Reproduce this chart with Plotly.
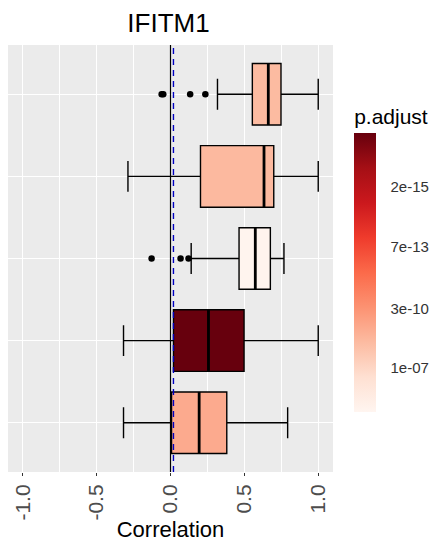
import plotly.graph_objects as go
from plotly.colors import sample_colorscale
import math

# ---- data ----
groups = ["G1", "G2", "G3", "G4", "G5"]          # top to bottom
positions = [5, 4, 3, 2, 1]
q1 = [0.554, 0.203, 0.464, 0.020, 0.007]
median = [0.662, 0.633, 0.574, 0.257, 0.194]
q3 = [0.748, 0.699, 0.676, 0.498, 0.381]
lowerfence = [0.318, -0.288, 0.140, -0.318, -0.318]
upperfence = [1.000, 1.000, 0.768, 1.000, 0.793]
p_adjust = [8e-9, 7e-9, 6e-6, 1e-17, 2e-9]
outlier_group = ["G1", "G1", "G1", "G1", "G3", "G3", "G3"]
outlier_x = [-0.060, -0.049, 0.133, 0.236, -0.128, 0.068, 0.122]
vline_zero = 0.0
vline_ref = 0.02
cbar_ticks = [2e-15, 7e-13, 3e-10, 1e-07]
cbar_ticklabels = ["2e-15", "7e-13", "3e-10", "1e-07"]
x_ticks = [-1.0, -0.5, 0.0, 0.5, 1.0]
x_ticklabels = ["-1.0", "-0.5", "0.0", "0.5", "1.0"]

reds = ['rgb(255,245,240)', 'rgb(254,224,210)', 'rgb(252,187,161)', 'rgb(252,146,114)',
        'rgb(251,106,74)', 'rgb(239,59,44)', 'rgb(203,24,29)', 'rgb(165,15,21)', 'rgb(103,0,13)']
cscale = [[i / (len(reds) - 1), c] for i, c in enumerate(reds)]
cmin, cmax = 5.13, 17.0

def col(p):
    v = -math.log10(p)
    f = min(max((v - cmin) / (cmax - cmin), 0), 1)
    return sample_colorscale(cscale, [f])[0]

pos_of = dict(zip(groups, positions))
bw = 0.75

# page has an 8px body margin; figure is sized/placed to compensate
W, H = 429, 537
ML, MR, MT, MB = 0, 104, 37, 73
PW, PH = W - ML - MR, H - MT - MB
CB_THICK, CB_BAR = 22, 272
CB_X = 1.065
CB_Y0 = 0.141
CB_TITLE = 35

fig = go.Figure()
for i, g in enumerate(groups):
    fig.add_trace(go.Box(
        y=[positions[i]], q1=[q1[i]], median=[median[i]], q3=[q3[i]],
        lowerfence=[lowerfence[i]], upperfence=[upperfence[i]],
        orientation="h", width=bw, fillcolor=col(p_adjust[i]),
        line=dict(color="black", width=1.4), boxpoints=False, showlegend=False,
        hoverinfo="skip"))
    fig.add_trace(go.Scatter(
        x=[median[i], median[i]], y=[positions[i] - bw / 2, positions[i] + bw / 2],
        mode="lines", line=dict(color="black", width=2.8), showlegend=False,
        hoverinfo="skip"))

fig.add_trace(go.Scatter(
    x=outlier_x, y=[pos_of[g] for g in outlier_group], mode="markers",
    marker=dict(color="black", size=6.5), showlegend=False))

# colorbar dummy
fig.add_trace(go.Scatter(
    x=[None, None], y=[None, None], mode="markers", showlegend=False,
    marker=dict(color=[cmin, cmax], colorscale=cscale, cmin=cmin, cmax=cmax, showscale=True,
                colorbar=dict(
                    title=dict(text="p.adjust", font=dict(size=21, color="black"), side="top"),
                    tickvals=[-math.log10(t) for t in cbar_ticks], ticktext=cbar_ticklabels,
                    tickfont=dict(size=15, color="#333333"),
                    ticks="outside", tickcolor="rgba(0,0,0,0)", ticklen=12,
                    thickness=CB_THICK, len=CB_BAR + CB_TITLE, lenmode="pixels",
                    x=CB_X, xanchor="left", y=CB_Y0, yanchor="bottom",
                    outlinewidth=0, xpad=0, ypad=0))))

fig.add_shape(type="line", x0=vline_zero, x1=vline_zero, y0=0, y1=1, yref="paper",
              line=dict(color="black", width=1.2))
fig.add_shape(type="line", x0=vline_ref, x1=vline_ref, y0=0, y1=1, yref="paper",
              line=dict(color="#0000C0", width=1.4, dash="6px,5px"))

fig.update_layout(
    width=W, height=H,
    margin=dict(l=ML, r=MR, t=MT, b=MB, autoexpand=False),
    paper_bgcolor="white", plot_bgcolor="#EBEBEB",
    font=dict(family="Liberation Sans, Arial, sans-serif"),
    title=dict(text="IFITM1", x=160.5 / W,
               xanchor="center", y=1 - 14.5 / H, yanchor="middle", yref="container",
               font=dict(size=26, color="black")),
    xaxis=dict(range=[-1.1, 1.1], tickvals=x_ticks, ticktext=x_ticklabels, tickangle=-90,
               tickfont=dict(size=21, color="#4D4D4D"), ticks="outside", ticklen=3,
               tickcolor="#333333", showgrid=True, gridcolor="white", gridwidth=1.1,
               zeroline=False, showline=False, automargin=False,
               minor=dict(showgrid=True, gridcolor="white", gridwidth=0.5, tick0=-0.75, dtick=0.5),
               title=dict(text="Correlation", font=dict(size=22, color="black"), standoff=2)),
    yaxis=dict(range=[0.4, 5.6], tickvals=positions, showticklabels=False, ticks="outside",
               ticklen=3, tickcolor="#333333", showgrid=True, gridcolor="white", gridwidth=1.1,
               zeroline=False, showline=False, automargin=False),
)

fig.write_html("out.html")
